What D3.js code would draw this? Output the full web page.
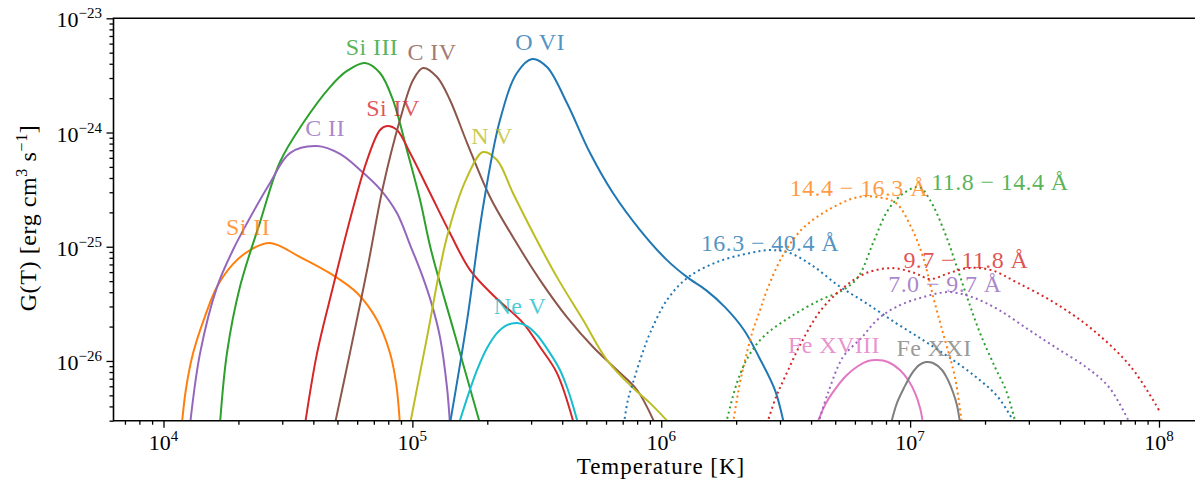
<!DOCTYPE html>
<html>
<head>
<meta charset="utf-8">
<script src="https://cdn.jsdelivr.net/npm/d3@7"></script>
<style>
  body { margin: 0; background: #fff; }
  text { font-family: "Liberation Serif", "DejaVu Serif", serif; }
</style>
</head>
<body>
<svg id="chart"></svg>
<script>
// values are [log10 T (K), log10 G (erg cm^3 s^-1)]
var siII = [[4.074,-26.55],[4.090,-26.25],[4.119,-25.931],[4.165,-25.62],[4.215,-25.351],[4.280,-25.15],[4.348,-25.029],[4.428,-24.968],[4.549,-25.090],[4.681,-25.248],[4.778,-25.405],[4.858,-25.642],[4.910,-25.931],[4.935,-26.20],[4.950,-26.55]];
var siIII = [[4.227,-26.55],[4.255,-25.931],[4.307,-25.353],[4.388,-24.784],[4.468,-24.258],[4.561,-23.917],[4.669,-23.602],[4.737,-23.461],[4.810,-23.391],[4.870,-23.479],[4.922,-23.715],[4.978,-24.153],[5.031,-24.591],[5.075,-25.029],[5.171,-25.773],[5.272,-26.55]];
var cII = [[4.107,-26.55],[4.147,-25.931],[4.215,-25.353],[4.279,-25.029],[4.336,-24.792],[4.428,-24.442],[4.508,-24.180],[4.617,-24.119],[4.709,-24.188],[4.790,-24.328],[4.870,-24.495],[4.938,-24.705],[4.991,-24.985],[5.039,-25.248],[5.079,-25.511],[5.111,-25.791],[5.139,-26.229],[5.151,-26.55]];
var siIV = [[4.569,-26.55],[4.617,-25.931],[4.681,-25.353],[4.749,-24.766],[4.818,-24.241],[4.870,-23.978],[4.898,-23.943],[4.938,-23.978],[4.991,-24.180],[5.071,-24.530],[5.151,-24.880],[5.232,-25.204],[5.332,-25.440],[5.445,-25.668],[5.513,-25.878],[5.581,-26.106],[5.649,-26.55]];
var cIV = [[4.689,-26.55],[4.749,-25.931],[4.818,-25.204],[4.882,-24.477],[4.950,-23.891],[5.003,-23.540],[5.043,-23.435],[5.099,-23.514],[5.151,-23.715],[5.220,-24.092],[5.312,-24.565],[5.404,-24.915],[5.513,-25.292],[5.621,-25.616],[5.726,-25.878],[5.822,-26.079],[5.903,-26.254],[5.975,-26.55]];
var nV = [[4.991,-26.55],[5.059,-25.791],[5.139,-24.915],[5.220,-24.390],[5.284,-24.171],[5.340,-24.241],[5.404,-24.530],[5.485,-24.880],[5.581,-25.266],[5.686,-25.642],[5.782,-25.992],[5.887,-26.237],[5.955,-26.369],[6.035,-26.55]];
var oVI = [[5.151,-26.55],[5.220,-25.642],[5.284,-24.652],[5.352,-23.891],[5.420,-23.479],[5.481,-23.356],[5.541,-23.426],[5.621,-23.742],[5.714,-24.180],[5.806,-24.530],[5.915,-24.854],[6.023,-25.117],[6.104,-25.266],[6.180,-25.380],[6.256,-25.529],[6.333,-25.731],[6.393,-25.967],[6.457,-26.256],[6.493,-26.55]];
var neV = [[5.187,-26.55],[5.224,-26.299],[5.260,-26.079],[5.300,-25.887],[5.340,-25.756],[5.380,-25.686],[5.420,-25.668],[5.461,-25.694],[5.501,-25.773],[5.553,-25.931],[5.593,-26.079],[5.621,-26.228],[5.641,-26.360],[5.666,-26.55]];
var feXVIII = [[6.626,-26.55],[6.662,-26.369],[6.702,-26.237],[6.746,-26.123],[6.791,-26.044],[6.831,-26.001],[6.867,-25.992],[6.911,-26.009],[6.959,-26.079],[6.992,-26.167],[7.020,-26.281],[7.040,-26.412],[7.052,-26.55]];
var feXXI = [[6.923,-26.55],[6.947,-26.369],[6.975,-26.237],[7.008,-26.106],[7.036,-26.036],[7.064,-26.009],[7.092,-26.018],[7.128,-26.079],[7.152,-26.167],[7.172,-26.272],[7.188,-26.386],[7.201,-26.55]];
var band16_40 = [[5.850,-26.55],[5.866,-26.342],[5.886,-26.193],[5.919,-25.967],[5.955,-25.756],[6.023,-25.467],[6.104,-25.274],[6.224,-25.134],[6.357,-25.055],[6.441,-25.029],[6.517,-25.055],[6.610,-25.169],[6.714,-25.344],[6.823,-25.493],[6.943,-25.668],[7.052,-25.817],[7.156,-25.967],[7.265,-26.141],[7.353,-26.316],[7.421,-26.55]];
var band14_16 = [[6.288,-26.55],[6.316,-26.193],[6.337,-25.992],[6.365,-25.756],[6.397,-25.555],[6.425,-25.380],[6.485,-25.090],[6.562,-24.854],[6.670,-24.679],[6.791,-24.565],[6.867,-24.565],[6.943,-24.617],[7.004,-24.828],[7.052,-25.090],[7.096,-25.467],[7.140,-25.817],[7.180,-26.141],[7.208,-26.55]];
var band11_14 = [[6.260,-26.55],[6.304,-26.193],[6.349,-25.966],[6.409,-25.791],[6.517,-25.616],[6.638,-25.467],[6.730,-25.380],[6.791,-25.266],[6.851,-24.968],[6.911,-24.679],[6.975,-24.530],[7.036,-24.478],[7.080,-24.591],[7.140,-24.880],[7.188,-25.178],[7.233,-25.467],[7.281,-25.756],[7.341,-26.054],[7.385,-26.256],[7.425,-26.55]];
var band9_11 = [[6.425,-26.55],[6.461,-26.316],[6.497,-26.141],[6.562,-25.843],[6.642,-25.554],[6.730,-25.362],[6.823,-25.231],[6.927,-25.187],[7.020,-25.231],[7.080,-25.283],[7.156,-25.231],[7.233,-25.187],[7.325,-25.204],[7.434,-25.318],[7.582,-25.493],[7.735,-25.729],[7.888,-26.054],[8.000,-26.431]];
var band7_9 = [[6.630,-26.55],[6.670,-26.281],[6.730,-25.967],[6.807,-25.791],[6.867,-25.642],[6.943,-25.528],[7.052,-25.441],[7.156,-25.397],[7.249,-25.441],[7.357,-25.554],[7.478,-25.729],[7.582,-25.878],[7.707,-26.054],[7.799,-26.229],[7.884,-26.55]];

// label text and where its centre sits, in the same log units
var labelNames = ["Si II", "Si III", "C II", "Si IV", "C IV", "N V", "O VI", "Ne V", "Fe XVIII", "Fe XXI",
  "16.3 \u2212 40.4 \u00C5", "14.4 \u2212 16.3 \u00C5", "11.8 \u2212 14.4 \u00C5", "9.7 \u2212 11.8 \u00C5", "7.0 \u2212 9.7 \u00C5"];
var labelLogT = [4.340, 4.838, 4.649, 4.922, 5.079, 5.320, 5.513, 5.432, 6.694, 7.096, 6.437, 6.794, 7.361, 7.224, 7.140];
var labelLogG = [-24.827, -23.251, -23.961, -23.785, -23.295, -24.031, -23.208, -25.519, -25.861, -25.887, -24.968, -24.486, -24.433, -25.116, -25.327];

var xTickExp = [4, 5, 6, 7, 8];
var yTickExp = [-26, -25, -24, -23];

var series = [
    { data: siII, color: "#ff7f0e", dotted: false },
    { data: siIII, color: "#2ca02c", dotted: false },
    { data: cII, color: "#9467bd", dotted: false },
    { data: siIV, color: "#d62728", dotted: false },
    { data: cIV, color: "#8c564b", dotted: false },
    { data: nV, color: "#bcbd22", dotted: false },
    { data: oVI, color: "#1f77b4", dotted: false },
    { data: neV, color: "#17becf", dotted: false },
    { data: feXVIII, color: "#e377c2", dotted: false },
    { data: feXXI, color: "#7f7f7f", dotted: false },
    { data: band16_40, color: "#1f77b4", dotted: true },
    { data: band14_16, color: "#ff7f0e", dotted: true },
    { data: band11_14, color: "#2ca02c", dotted: true },
    { data: band9_11, color: "#d62728", dotted: true },
    { data: band7_9, color: "#9467bd", dotted: true }
];

var w = 1195, h = 490;
var pLeft = 113.5, pRight = 1195, pTop = 18.3, pBottom = 420.7;

var svg = d3.select("#chart").attr("width", w).attr("height", h);

var x = d3.scaleLog().domain([Math.pow(10, 3.7991), Math.pow(10, 8.1447)]).range([pLeft, pRight]);
var y = d3.scaleLog().domain([Math.pow(10, -26.523), 1e-23]).range([pBottom, pTop]);

svg.append("clipPath").attr("id", "plot-clip")
    .append("rect")
    .attr("x", pLeft).attr("y", pTop)
    .attr("width", pRight - pLeft).attr("height", pBottom - pTop);

var line = d3.line()
    .x(function (d) { return x(Math.pow(10, d[0])); })
    .y(function (d) { return y(Math.pow(10, d[1])); })
    .curve(d3.curveCatmullRom.alpha(0.5));

var plot = svg.append("g").attr("clip-path", "url(#plot-clip)");

series.forEach(function (s) {
    plot.append("path")
        .attr("d", line(s.data))
        .attr("fill", "none")
        .attr("stroke", s.color)
        .attr("stroke-width", 2)
        .attr("stroke-dasharray", s.dotted ? "2,3.3" : null);
});

// labels, same colours as their curves
labelNames.forEach(function (name, i) {
    svg.append("text")
        .text(name)
        .attr("x", x(Math.pow(10, labelLogT[i])))
        .attr("y", y(Math.pow(10, labelLogG[i])))
        .attr("text-anchor", "middle")
        .attr("dominant-baseline", "central")
        .attr("font-size", "24px")
        .attr("letter-spacing", "0.4px")
        .attr("fill", series[i].color)
        .attr("fill-opacity", 0.8);
});

// minor tick values
var xMinor = [], yMinor = [];
for (var e = 3; e <= 8; e++) {
    for (var m = 2; m <= 9; m++) {
        var v = m * Math.pow(10, e);
        if (v >= x.domain()[0] && v <= x.domain()[1]) xMinor.push(v);
    }
}
for (var e2 = -27; e2 <= -24; e2++) {
    for (var m2 = 2; m2 <= 9; m2++) {
        var v2 = m2 * Math.pow(10, e2);
        if (v2 >= y.domain()[0] && v2 <= y.domain()[1]) yMinor.push(v2);
    }
}

function styleAxis(g) {
    g.select(".domain").remove();
    g.selectAll(".tick line").attr("stroke", "#000").attr("stroke-width", 1.3);
}

svg.append("g").attr("transform", "translate(0," + pBottom + ")")
    .call(d3.axisBottom(x).tickValues(xMinor).tickSize(4).tickFormat(""))
    .call(styleAxis);
svg.append("g").attr("transform", "translate(0," + pBottom + ")")
    .call(d3.axisBottom(x).tickValues(xTickExp.map(function (p) { return Math.pow(10, p); })).tickSize(7).tickFormat(""))
    .call(styleAxis);
svg.append("g").attr("transform", "translate(" + pLeft + ",0)")
    .call(d3.axisLeft(y).tickValues(yMinor).tickSize(4).tickFormat(""))
    .call(styleAxis);
svg.append("g").attr("transform", "translate(" + pLeft + ",0)")
    .call(d3.axisLeft(y).tickValues(yTickExp.map(function (p) { return Math.pow(10, p); })).tickSize(7).tickFormat(""))
    .call(styleAxis);

// spines: left, bottom, top
svg.append("path")
    .attr("d", "M" + pRight + "," + pTop + "H" + pLeft + "V" + pBottom + "H" + pRight)
    .attr("fill", "none")
    .attr("stroke", "#000")
    .attr("stroke-width", 1.6);

// tick labels with superscript exponent
xTickExp.forEach(function (p) {
    var t = svg.append("text")
        .attr("x", x(Math.pow(10, p)))
        .attr("y", 450)
        .attr("text-anchor", "middle")
        .attr("font-size", "22px");
    t.append("tspan").text("10");
    t.append("tspan").text(p).attr("dy", -9).attr("font-size", "15px");
});

yTickExp.forEach(function (p) {
    var t = svg.append("text")
        .attr("x", 102)
        .attr("y", y(Math.pow(10, p)) + 9)
        .attr("text-anchor", "end")
        .attr("font-size", "22px");
    t.append("tspan").text("10");
    t.append("tspan").text("\u2212" + (-p)).attr("dy", -9).attr("font-size", "15px");
});

// axis titles
svg.append("text")
    .text("Temperature [K]")
    .attr("x", 661)
    .attr("y", 474)
    .attr("text-anchor", "middle")
    .attr("font-size", "23px")
    .attr("letter-spacing", "1px");

var yl = svg.append("text")
    .attr("transform", "translate(36,218) rotate(-90)")
    .attr("text-anchor", "middle")
    .attr("font-size", "24px")
    .attr("letter-spacing", "0.6px");
yl.append("tspan").text("G(T) [erg cm");
yl.append("tspan").text("3").attr("dy", -9).attr("font-size", "16px");
yl.append("tspan").text(" s").attr("dy", 9);
yl.append("tspan").text("\u22121").attr("dy", -9).attr("font-size", "16px");
yl.append("tspan").text("]").attr("dy", 9);
</script>
</body>
</html>
